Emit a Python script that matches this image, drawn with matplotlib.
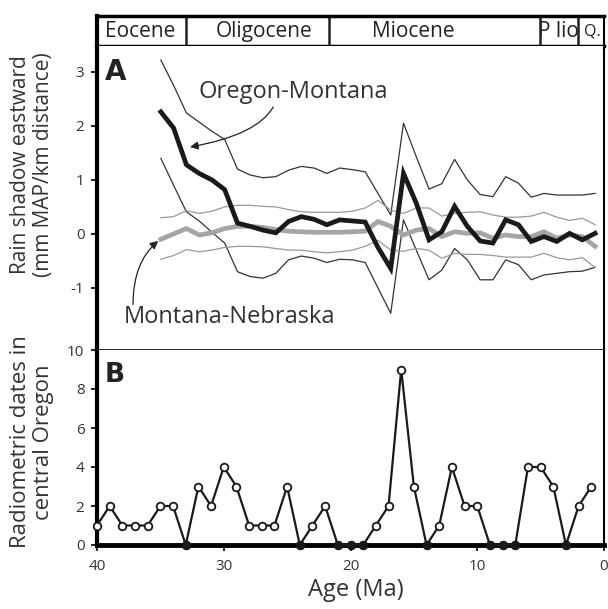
import matplotlib.pyplot as plt
import numpy as np

plt.rcParams['font.family'] = ['Open Sans', 'DejaVu Sans']
plt.rcParams['axes.unicode_minus'] = False

# Rain shadow eastward (mm MAP / km), 35 to 1 Ma
edad_a = np.arange(35, 0, -1)
or_mt = [2.26, 1.96, 1.28, 1.12, 1.0, 0.82, 0.2, 0.14, 0.07, 0.02,
         0.23, 0.32, 0.27, 0.17, 0.26, 0.24, 0.22, -0.25, -0.64, 1.12,
         0.57, -0.11, 0.04, 0.51, 0.14, -0.13, -0.17, 0.26, 0.17, -0.14,
         -0.05, -0.14, 0.01, -0.11, 0.01]
or_mt_sup = [3.22, 2.75, 2.24, 2.07, 1.9, 1.75, 1.2, 1.09, 1.04, 1.06,
             1.18, 1.25, 1.22, 1.12, 1.22, 1.19, 1.15, 0.75, 0.35, 2.05,
             1.43, 0.83, 0.93, 1.38, 1.0, 0.73, 0.69, 1.06, 0.94, 0.68,
             0.75, 0.72, 0.72, 0.72, 0.75]
or_mt_inf = [1.4, 0.9, 0.41, 0.24, 0.03, -0.17, -0.7, -0.79, -0.82, -0.73,
             -0.48, -0.41, -0.45, -0.53, -0.47, -0.48, -0.53, -1.0, -1.47, 0.26,
             -0.3, -0.85, -0.67, -0.27, -0.48, -0.85, -0.85, -0.48, -0.57, -0.85,
             -0.76, -0.73, -0.7, -0.69, -0.62]
mt_ne = [-0.1, 0.0, 0.1, -0.02, 0.02, 0.1, 0.14, 0.14, 0.12, 0.08,
         0.05, 0.04, 0.03, 0.03, 0.03, 0.04, 0.05, 0.23, 0.14, -0.02,
         0.07, 0.1, -0.05, 0.04, 0.01, 0.02, -0.08, -0.02, -0.05, -0.05,
         0.04, -0.08, -0.02, -0.05, -0.23]
mt_ne_sup = [0.3, 0.32, 0.43, 0.38, 0.42, 0.5, 0.53, 0.53, 0.51, 0.5,
             0.45, 0.41, 0.4, 0.4, 0.4, 0.42, 0.48, 0.62, 0.44, 0.38,
             0.48, 0.48, 0.33, 0.38, 0.4, 0.41, 0.35, 0.31, 0.31, 0.33,
             0.4, 0.31, 0.25, 0.29, 0.17]
mt_ne_inf = [-0.47, -0.4, -0.29, -0.33, -0.3, -0.25, -0.23, -0.23, -0.24, -0.27,
             -0.3, -0.3, -0.33, -0.35, -0.33, -0.3, -0.23, -0.12, -0.3, -0.32,
             -0.27, -0.3, -0.45, -0.36, -0.38, -0.38, -0.4, -0.43, -0.43, -0.43,
             -0.36, -0.44, -0.48, -0.44, -0.62]

# Radiometric dates in central Oregon, 40 to 1 Ma
edad_b = np.arange(40, 0, -1)
fechas = [1, 2, 1, 1, 1, 2, 2, 0, 3, 2,
          4, 3, 1, 1, 1, 3, 0, 1, 2, 0,
          0, 0, 1, 2, 9, 3, 0, 1, 4, 2,
          2, 0, 0, 0, 4, 4, 3, 0, 2, 3]

# Epochs
epocas = ["Eocene", "Oligocene", "Miocene", "P lio", "Q."]
limites = [33.0, 21.8, 5.3, 2.3]
pos_texto = [36.6, 26.9, 15.2, 3.85, 1.25]

xmin, xmax = 40, 0.3
gris_texto = "#333333"

fig = plt.figure(figsize=(6.08, 6.09), dpi=100)
izq, ancho = 97 / 608, 507 / 608
ax_ep = fig.add_axes([izq, 1 - 46 / 609, ancho, 30 / 609])
ax_a = fig.add_axes([izq, 1 - 350 / 609, ancho, 304 / 609])
ax_b = fig.add_axes([izq, 1 - 545 / 609, ancho, 195 / 609])

# Epoch bar
ax_ep.set_xlim(xmin, xmax)
ax_ep.set_ylim(0, 1)
ax_ep.set_xticks([])
ax_ep.set_yticks([])
for lim in limites:
    ax_ep.axvline(lim, color="#222222", lw=1.8)
for nombre, x in zip(epocas, pos_texto):
    tam = 15 if len(nombre) > 4 else 11.5
    ax_ep.text(x, 0.47, nombre, ha="center", va="center", fontsize=tam, color="#222222")
ax_ep.spines["top"].set_linewidth(2.5)
ax_ep.spines["bottom"].set_linewidth(2.5)
ax_ep.spines["left"].set_linewidth(3)
ax_ep.spines["right"].set_linewidth(1.5)

# Panel A
ax_a.plot(edad_a, or_mt_sup, color="#333333", lw=0.9)
ax_a.plot(edad_a, or_mt_inf, color="#333333", lw=0.9)
ax_a.plot(edad_a, mt_ne_sup, color="#999999", lw=0.9)
ax_a.plot(edad_a, mt_ne_inf, color="#999999", lw=0.9)
ax_a.plot(edad_a, mt_ne, color="#a5a5a5", lw=3.4, solid_joinstyle="miter")
ax_a.plot(edad_a, or_mt, color="#1a1a1a", lw=3.4, solid_joinstyle="miter")
ax_a.set_xlim(xmin, xmax)
ax_a.set_ylim(-2.15, 3.48)
ax_a.set_xticks([])
ax_a.set_yticks([3, 2, 1, 0, -1])
ax_a.tick_params(axis="y", direction="out", length=4, width=1.2, labelsize=11,
                 labelcolor=gris_texto, pad=5)
ax_a.spines["top"].set_visible(False)
ax_a.spines["left"].set_linewidth(3)
ax_a.spines["right"].set_linewidth(1.5)
ax_a.spines["bottom"].set_linewidth(1.2)
ax_a.text(0.015, 0.96, "A", transform=ax_a.transAxes, fontsize=20, fontweight="bold",
          fontfamily="DejaVu Sans", ha="left", va="top", color="#222222")

ax_a.text(24.65, 2.63, "Oregon-Montana", fontsize=17, ha="center", va="center",
          color=gris_texto)
ax_a.annotate("", xy=(32.72, 1.61), xytext=(26.2, 2.35),
              arrowprops=dict(arrowstyle="-|>", color="#222222", lw=0.9,
                              connectionstyle="angle3,angleA=60,angleB=10",
                              shrinkA=0, shrinkB=0, mutation_scale=12))
ax_a.text(29.6, -1.54, "Montana-Nebraska", fontsize=17, ha="center", va="center",
          color=gris_texto)
ax_a.annotate("", xy=(35.2, -0.13), xytext=(37.18, -1.31),
              arrowprops=dict(arrowstyle="-|>", color="#222222", lw=0.9,
                              connectionstyle="angle3,angleA=90,angleB=40",
                              shrinkA=0, shrinkB=0, mutation_scale=12))

# Panel B
ax_b.plot(edad_b, fechas, color="#1a1a1a", lw=1.6, marker="o", markersize=5.5,
          markerfacecolor="white", markeredgecolor="#1a1a1a", markeredgewidth=1.3,
          clip_on=False, zorder=3)
ceros = np.array(fechas) == 0
ax_b.plot(edad_b[ceros], np.array(fechas)[ceros], "o", color="#1a1a1a",
          markersize=5.5, clip_on=False, zorder=4)
ax_b.set_xlim(xmin, xmax)
ax_b.set_ylim(0, 10)
ax_b.set_yticks([0, 2, 4, 6, 8, 10])
ax_b.set_xticks([40, 30, 20, 10, 0])
ax_b.tick_params(axis="y", direction="out", length=4, width=1.2, labelsize=11,
                 labelcolor=gris_texto, pad=5)
ax_b.tick_params(axis="x", direction="out", length=4, width=1.2, labelsize=11,
                 labelcolor=gris_texto, pad=6)
ax_b.spines["top"].set_visible(False)
ax_b.spines["left"].set_linewidth(3)
ax_b.spines["right"].set_linewidth(1.5)
ax_b.spines["bottom"].set_linewidth(3.5)
ax_b.text(0.015, 0.94, "B", transform=ax_b.transAxes, fontsize=19, fontweight="bold",
          fontfamily="DejaVu Sans", ha="left", va="top", color="#222222")

fig.text(0.053, 1 - 165 / 609, "Rain shadow eastward\n(mm MAP/km distance)", rotation=90,
         ha="center", va="center", fontsize=15, linespacing=1.15, color=gris_texto)
fig.text(0.053, 1 - 442 / 609, "Radiometric dates in\ncentral Oregon", rotation=90,
         ha="center", va="center", fontsize=16, linespacing=1.1, color=gris_texto)
fig.text(356 / 608, 1 - 590 / 609, "Age (Ma)", ha="center", va="center", fontsize=17,
         color=gris_texto)

fig.savefig("out.png", dpi=100)
